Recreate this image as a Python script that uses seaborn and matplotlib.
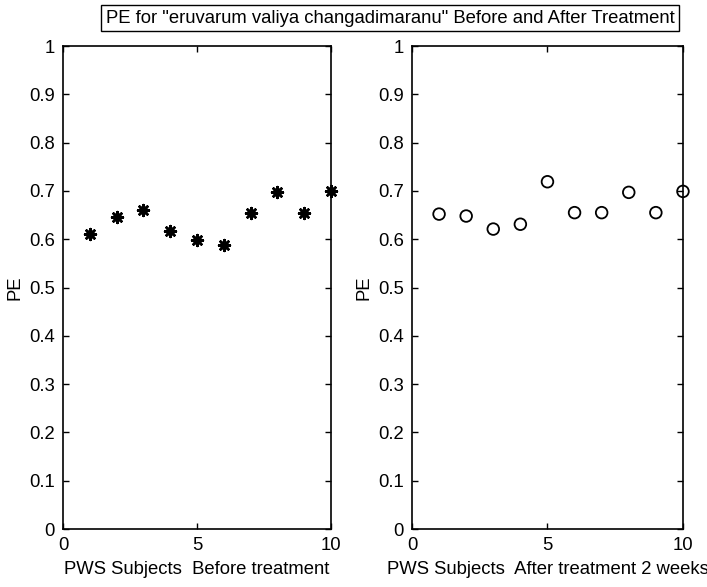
import matplotlib
matplotlib.use("Agg")
import matplotlib.pyplot as plt
import seaborn as sns
import pandas as pd

subjects = [1, 2, 3, 4, 5, 6, 7, 8, 9, 10]
pe_before = [0.610, 0.646, 0.661, 0.617, 0.598, 0.589, 0.654, 0.697, 0.654, 0.700]
pe_after = [0.652, 0.648, 0.621, 0.631, 0.719, 0.655, 0.655, 0.697, 0.655, 0.699]
x_ticks = [0, 5, 10]
y_ticks = [0, 0.1, 0.2, 0.3, 0.4, 0.5, 0.6, 0.7, 0.8, 0.9, 1]
y_tick_labels = ["0", "0.1", "0.2", "0.3", "0.4", "0.5", "0.6", "0.7", "0.8", "0.9", "1"]
title = 'PE for "eruvarum valiya changadimaranu" Before and After Treatment'
xlabel_before = "PWS Subjects  Before treatment"
xlabel_after = "PWS Subjects  After treatment 2 weeks"
ylabel = "PE"

sns.set_theme(style="white")
plt.rcParams["font.family"] = ["Liberation Sans", "DejaVu Sans"]
FS = 13.3
plt.rcParams["font.size"] = FS

df_b = pd.DataFrame({"Subject": subjects, "PE": pe_before})
df_a = pd.DataFrame({"Subject": subjects, "PE": pe_after})

fig = plt.figure(figsize=(7.07, 5.87), dpi=100)
ax1 = fig.add_axes([0.0891, 0.0988, 0.379, 0.8228])
ax2 = fig.add_axes([0.5827, 0.0988, 0.3833, 0.8228])

sns.scatterplot(data=df_b, x="Subject", y="PE", ax=ax1, marker=(8, 2, 0),
                s=60, color="black", edgecolor="black", linewidth=1.9,
                clip_on=False, zorder=5)
sns.scatterplot(data=df_a, x="Subject", y="PE", ax=ax2, marker="o",
                s=70, facecolor="none", edgecolor="black", linewidth=1.3,
                clip_on=False, zorder=5)

for ax, xl in [(ax1, xlabel_before), (ax2, xlabel_after)]:
    ax.set_xlim(0, 10)
    ax.set_ylim(0, 1)
    ax.set_xticks(x_ticks)
    ax.set_xticklabels([str(t) for t in x_ticks])
    ax.set_yticks(y_ticks)
    ax.set_yticklabels(y_tick_labels)
    ax.set_xlabel(xl, fontsize=FS, color="black", labelpad=5)
    ax.set_ylabel(ylabel, fontsize=FS, color="black", labelpad=4)
    ax.tick_params(axis="both", which="both", direction="in", length=4, width=1,
                   colors="black", labelsize=FS, top=True, right=True,
                   bottom=True, left=True)
    ax.tick_params(axis="x", pad=6)
    ax.tick_params(axis="y", pad=6)
    for sp in ax.spines.values():
        sp.set_visible(True)
        sp.set_color("black")
        sp.set_linewidth(1.2)
    ax.set_facecolor("white")
    ax.grid(False)

fig.text(0.552, 0.969, title, ha="center", va="center", fontsize=FS, color="black",
         bbox=dict(boxstyle="square,pad=0.25", facecolor="white", edgecolor="black", linewidth=1))

fig.savefig("out.png", dpi=100, facecolor="white")
